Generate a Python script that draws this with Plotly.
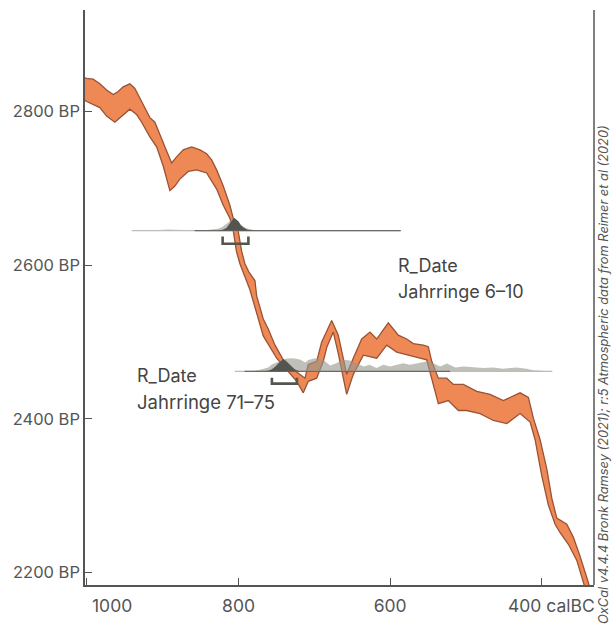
import plotly.graph_objects as go

# ---------------- data ----------------
# Calibration curve band (IntCal20) -- upper and lower edges (calBC, BP)
cal_upper_x = [1004, 1000.5, 991.8, 983.0, 974.1, 965.4, 958.8, 952.2, 943.4, 936.8, 927.9, 917.0, 910.4,
               903.8, 897.2, 888.3, 881.7, 873.0, 861.9, 850.9, 842.1, 835.5, 828.9, 820.2, 815.7, 811.4,
               807.0, 804.1, 800.4, 795.9, 791.6, 786.3, 778.4, 776.1, 767.4, 760.8, 751.9, 741.0, 729.9,
               718.9, 712.3, 708.0, 696.9, 690.3, 677.1, 668.4, 662.8, 657.3, 648.6, 637.5, 626.5, 617.7,
               602.4, 589.2, 578.1, 569.4, 556.2, 549.6, 545.1, 536.4, 525.3, 516.6, 503.4, 485.7, 468.1,
               450.6, 428.5, 417.6, 411.0, 402.1, 393.3, 386.7, 380.1, 366.9, 358.2, 349.3, 338.4, 332.2]
cal_upper_y = [2844, 2843, 2842, 2836, 2828, 2822, 2826, 2832, 2836, 2830, 2813, 2792, 2786,
               2769, 2754, 2733, 2741, 2750, 2754, 2750, 2745, 2737, 2724, 2703, 2690, 2678,
               2661, 2659, 2644, 2618, 2602, 2591, 2580, 2560, 2530, 2517, 2496, 2477, 2466,
               2458, 2453, 2471, 2475, 2500, 2528, 2509, 2485, 2458, 2479, 2504, 2513, 2504,
               2525, 2509, 2504, 2498, 2496, 2494, 2475, 2453, 2453, 2445, 2445, 2436, 2432,
               2424, 2434, 2428, 2401, 2373, 2335, 2297, 2271, 2263, 2246, 2221, 2187, 2167]
cal_lower_x = [1004, 1000.5, 983.0, 974.1, 963.2, 954.3, 943.4, 934.5, 927.9, 917.0, 908.1, 899.4, 890.6,
               884.0, 877.4, 866.4, 855.3, 842.1, 828.9, 820.2, 811.4, 807.0, 802.8, 798.2, 791.6, 785.0,
               780.6, 767.4, 749.7, 734.4, 723.3, 714.6, 708.0, 696.9, 688.2, 683.3, 675.0, 668.8, 662.2,
               657.3, 648.6, 635.4, 617.7, 604.5, 591.3, 578.1, 560.5, 551.7, 545.1, 536.4, 523.2, 509.9,
               498.9, 481.3, 463.8, 446.1, 428.5, 415.3, 408.7, 399.9, 391.2, 382.3, 375.7, 364.8, 353.7,
               345.0, 338.8]
cal_lower_y = [2815, 2813, 2805, 2794, 2786, 2794, 2803, 2796, 2786, 2767, 2754, 2729, 2697,
               2703, 2712, 2722, 2724, 2720, 2699, 2678, 2661, 2645, 2618, 2602, 2585, 2568,
               2555, 2508, 2479, 2462, 2449, 2434, 2449, 2453, 2475, 2494, 2513, 2487, 2456,
               2432, 2458, 2483, 2479, 2496, 2487, 2483, 2479, 2477, 2453, 2420, 2424, 2411,
               2411, 2407, 2398, 2394, 2407, 2396, 2373, 2326, 2288, 2263, 2252, 2237, 2216,
               2187, 2167]

# R_Date Jahrringe 6-10
d1_base = 2645
d1_line_light = [941, 586]
d1_line_dark = [858, 586]
d1_like_x = [917, 904, 893, 883, 871, 858, 844, 835, 827, 821, 814, 809, 806, 802, 797, 790, 782, 777]
d1_like_p = [0, 0.05, 0.09, 0.06, 0.02, 0.02, 0.03, 0.07, 0.15, 0.30, 0.60, 0.90, 0.98, 0.83, 0.45, 0.19, 0.04, 0]
d1_post_x = [827, 821, 816, 811, 808, 806, 803, 800, 797, 794, 789, 782]
d1_post_p = [0, 0.06, 0.20, 0.58, 0.83, 1.0, 0.83, 0.70, 0.41, 0.25, 0.08, 0]
d1_range = [821, 787]

# R_Date Jahrringe 71-75
d2_base = 2462
d2_line_light = [805, 386]
d2_line_dark = [792, 521]
d2_like_x = [792, 778, 769, 761, 756, 749, 741, 736, 728, 719, 712, 708, 699, 689, 679, 671, 662, 653,
             644, 635, 627, 618, 609, 600, 591, 583, 574, 565, 552, 543, 534, 525, 514, 503, 490, 477,
             464, 451, 433, 420, 411, 396, 386]
d2_like_h = [0, 0.5, 2, 4, 7, 9.5, 12, 13, 13.3, 12, 9, 11.5, 13.3, 12, 6, 8.3, 11.7, 11,
             8.3, 5, 6.7, 3.3, 6.7, 5, 6.7, 8.3, 6.7, 8.3, 10, 8.3, 5, 8, 4, 5, 4, 3.3,
             4, 2.7, 4, 2.7, 1, 0.3, 0]
d2_post_x = [769, 761, 756, 751, 747, 743, 741, 738, 735, 730, 726, 720]
d2_post_p = [0, 0.04, 0.15, 0.38, 0.64, 0.83, 0.95, 0.83, 0.64, 0.38, 0.15, 0]
d2_range = [756, 723]

x_ticks = [1000, 800, 600, 400]
x_ticklabels = ["", "800", "600", ""]
y_ticks = [2200, 2400, 2600, 2800]
y_ticklabels = ["2200 BP", "2400 BP", "2600 BP", "2800 BP"]

# ---------------- style ----------------
FONT = "Inter, Roboto, 'DejaVu Sans', sans-serif"
AX = "#555555"
ORANGE = "#EE8956"
ORANGE_EDGE = "#9A5234"
DARK = "#55554f"
LIGHT_FILL = "rgba(150,150,142,0.6)"
LIGHT_LINE = "#bdbdb8"
P_SCALE = 16.9  # BP units per unit of relative probability

fig = go.Figure()

# calibration band
fig.add_trace(go.Scatter(
    x=cal_upper_x + cal_lower_x[::-1], y=cal_upper_y + cal_lower_y[::-1],
    mode="lines", fill="toself", fillcolor=ORANGE,
    line=dict(color=ORANGE_EDGE, width=1.3), hoverinfo="skip", showlegend=False))


def dist(xs, ps, base, color, scale=P_SCALE):
    xx = list(xs) + [xs[-1], xs[0]]
    yy = [base + p * scale for p in ps] + [base, base]
    fig.add_trace(go.Scatter(x=xx, y=yy, mode="lines", fill="toself", fillcolor=color,
                             line=dict(width=0, color=color), hoverinfo="skip", showlegend=False))


def hline(xr, y, color, w=1.3):
    fig.add_trace(go.Scatter(x=xr, y=[y, y], mode="lines", line=dict(color=color, width=w),
                             hoverinfo="skip", showlegend=False))


def bracket(xr, top, bottom):
    fig.add_trace(go.Scatter(x=[xr[0], xr[0], xr[1], xr[1]], y=[top, bottom, bottom, top],
                             mode="lines", line=dict(color=DARK, width=2.6),
                             hoverinfo="skip", showlegend=False))


# date 1
dist(d1_like_x, d1_like_p, d1_base, LIGHT_FILL)
hline(d1_line_light, d1_base, LIGHT_LINE)
hline(d1_line_dark, d1_base, "#6a6a66")
dist(d1_post_x, d1_post_p, d1_base, DARK)
bracket(d1_range, d1_base - 7.5, d1_base - 17)

# date 2
dist(d2_like_x, [h / 13.3 for h in d2_like_h], d2_base, LIGHT_FILL)
hline(d2_line_light, d2_base, LIGHT_LINE)
hline(d2_line_dark, d2_base, "#6a6a66")
dist(d2_post_x, d2_post_p, d2_base, DARK)
bracket(d2_range, d2_base - 8.5, d2_base - 16)

LBL = dict(family=FONT, size=18, color="#444")
TICKF = dict(family=FONT, size=17.5, color=AX)
annotations = [
    dict(x=592, y=2600, xref="x", yref="y", text="R_Date", showarrow=False,
         xanchor="left", yanchor="middle", font=LBL),
    dict(x=592, y=2566, xref="x", yref="y", text="Jahrringe 6–10", showarrow=False,
         xanchor="left", yanchor="middle", font=LBL),
    dict(x=937, y=2456, xref="x", yref="y", text="R_Date", showarrow=False,
         xanchor="left", yanchor="middle", font=LBL),
    dict(x=937, y=2422, xref="x", yref="y", text="Jahrringe 71–75", showarrow=False,
         xanchor="left", yanchor="middle", font=dict(family=FONT, size=18.5, color="#444")),
    dict(x=1000, y=0, xref="x", yref="paper", text="1000", showarrow=False,
         xanchor="left", yanchor="top", xshift=3, yshift=-8, font=TICKF),
    dict(x=400, y=0, xref="x", yref="paper", text="400 calBC", showarrow=False,
         xanchor="left", yanchor="top", xshift=-36, yshift=-8, font=TICKF),
    dict(x=1.0196, y=0.367, xref="paper", yref="paper",
         text="<i>OxCal v4.4.4 Bronk Ramsey (2021); r:5 Atmospheric data from Reimer et al (2020)</i>",
         showarrow=False, textangle=-90, xanchor="center", yanchor="middle",
         font=dict(family=FONT, size=12.8, color=AX)),
]

fig.update_layout(
    width=616, height=626,
    margin=dict(l=85, r=22, t=10, b=27),
    paper_bgcolor="white", plot_bgcolor="white",
    showlegend=False,
    annotations=annotations,
    shapes=[dict(type="line", xref="paper", yref="paper", x0=1, x1=1, y0=0, y1=1,
                 line=dict(color=AX, width=1.5))],
    xaxis=dict(range=[1002.6, 331], tickvals=x_ticks, ticktext=x_ticklabels,
               showgrid=False, zeroline=False, showline=True, linecolor=AX, linewidth=1.5,
               ticks="inside", ticklen=7, tickcolor=AX, tickwidth=1, ticklabelstandoff=4,
               tickfont=TICKF),
    yaxis=dict(range=[2184, 2932], tickvals=y_ticks, ticktext=y_ticklabels,
               showgrid=False, zeroline=False, showline=True, linecolor=AX, linewidth=1.5,
               ticks="inside", ticklen=7, tickcolor=AX, tickwidth=1,
               tickfont=dict(family=FONT, size=16.5, color=AX)),
)

fig.write_html("out.html", config={"displayModeBar": False},
               post_script="document.body.style.margin='0px';document.body.style.padding='0px';")
